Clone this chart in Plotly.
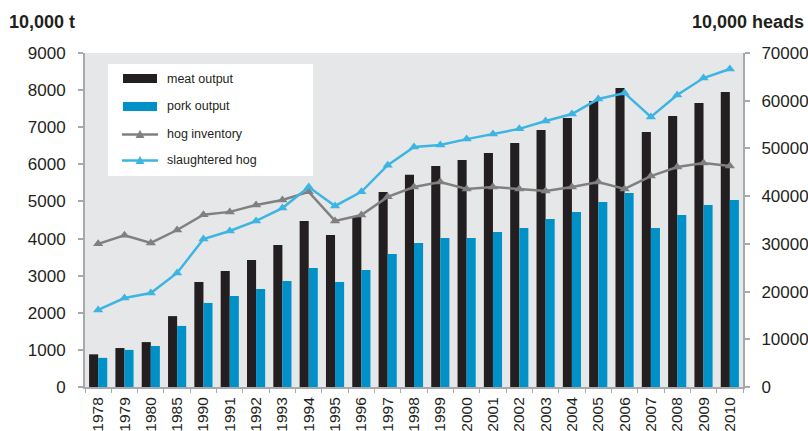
import plotly.graph_objects as go

years = ["1978", "1979", "1980", "1985", "1990", "1991", "1992", "1993", "1994", "1995",
         "1996", "1997", "1998", "1999", "2000", "2001", "2002", "2003", "2004", "2005",
         "2006", "2007", "2008", "2009", "2010"]

meat_output = [880, 1050, 1210, 1910, 2830, 3125, 3420, 3825, 4475, 4095,
               4580, 5255, 5720, 5955, 6115, 6305, 6575, 6925, 7250, 7705,
               8055, 6870, 7300, 7650, 7950]

pork_output = [785, 1000, 1105, 1645, 2265, 2455, 2640, 2855, 3205, 2830,
               3155, 3585, 3880, 4015, 4015, 4180, 4285, 4525, 4715, 4985,
               5225, 4285, 4635, 4905, 5040]

hog_inventory = [30000, 31800, 30200, 32900, 36100, 36700, 38150, 39200, 40900, 34800,
                 36050, 39850, 41900, 42950, 41500, 41900, 41500, 41100, 41900, 42950,
                 41500, 44200, 46100, 46950, 46300]

slaughtered_hog = [16150, 18650, 19700, 23900, 31000, 32700, 34800, 37500, 41900, 37950,
                   40900, 46500, 50300, 50700, 51950, 53050, 54100, 55750, 57200, 60350,
                   61600, 56600, 61200, 64750, 66650]

FONT = "Liberation Sans, Arial, sans-serif"
TXT = "#231f20"
AXIS = "#a7a9ac"

W, H = 808, 431
L, R, T, B = 85, 743, 53, 387  # plot area in page pixels


def px(x):
    return (x - L) / (R - L)


def py(y):
    return (B - y) / (B - T)


fig = go.Figure()
fig.add_trace(go.Bar(x=years, y=meat_output, name="meat output",
                     marker=dict(color="#231f20", line=dict(width=0))))
fig.add_trace(go.Bar(x=years, y=pork_output, name="pork output",
                     marker=dict(color="#0091c9", line=dict(width=0))))
fig.add_trace(go.Scatter(x=years, y=hog_inventory, name="hog inventory", yaxis="y2",
                         mode="lines+markers",
                         line=dict(color="#808080", width=2.5),
                         marker=dict(symbol="triangle-up", size=9, color="#808080")))
fig.add_trace(go.Scatter(x=years, y=slaughtered_hog, name="slaughtered hog", yaxis="y2",
                         mode="lines+markers",
                         line=dict(color="#3db5e3", width=2.5),
                         marker=dict(symbol="triangle-up", size=9, color="#3db5e3")))

shapes = []
annotations = []
# legend box
shapes.append(dict(type="rect", xref="paper", yref="paper",
                   x0=px(108), x1=px(313), y0=py(176), y1=py(64),
                   fillcolor="white", line=dict(width=0), layer="above"))
shapes.append(dict(type="rect", xref="paper", yref="paper",
                   x0=px(123), x1=px(157), y0=py(83), y1=py(74),
                   fillcolor="#231f20", line=dict(width=0), layer="above"))
shapes.append(dict(type="rect", xref="paper", yref="paper",
                   x0=px(123), x1=px(157), y0=py(111), y1=py(102),
                   fillcolor="#0091c9", line=dict(width=0), layer="above"))
for yy, col in [(134.5, "#808080"), (160.5, "#3db5e3")]:
    shapes.append(dict(type="line", xref="paper", yref="paper",
                       x0=px(122), x1=px(158), y0=py(yy), y1=py(yy),
                       line=dict(color=col, width=2.5), layer="above"))
    cx = 140
    path = "M {},{} L {},{} L {},{} Z".format(px(cx - 4.5), py(yy + 3.5), px(cx + 4.5), py(yy + 3.5),
                                              px(cx), py(yy - 4.5))
    shapes.append(dict(type="path", xref="paper", yref="paper", path=path,
                       fillcolor=col, line=dict(width=0), layer="above"))

for yy, label in [(79, "meat output"), (106, "pork output"), (134, "hog inventory"),
                  (159.5, "slaughtered hog")]:
    annotations.append(dict(text=label, xref="paper", yref="paper", x=px(165), y=py(yy),
                            xanchor="left", yanchor="middle", showarrow=False,
                            font=dict(family=FONT, size=12.5, color=TXT)))

annotations.append(dict(text="<b>10,000 t</b>", xref="paper", yref="paper", x=px(7), y=py(22),
                        xanchor="left", yanchor="middle", showarrow=False,
                        font=dict(family=FONT, size=18, color=TXT)))
annotations.append(dict(text="<b>10,000 heads</b>", xref="paper", yref="paper", x=px(806), y=py(22),
                        xanchor="right", yanchor="middle", showarrow=False,
                        font=dict(family=FONT, size=18, color=TXT)))

fig.update_layout(
    width=W, height=H,
    margin=dict(l=L, r=W - R, t=T, b=H - B, autoexpand=False),
    paper_bgcolor="white",
    plot_bgcolor="#e6e7e8",
    barmode="group", bargap=0.31, bargroupgap=0,
    showlegend=False,
    font=dict(family=FONT, color=TXT),
    shapes=shapes,
    annotations=annotations,
    xaxis=dict(type="category", range=[-0.5, len(years) - 0.5],
               showline=True, linecolor=AXIS, linewidth=2,
               ticks="outside", tickson="boundaries", ticklen=4, tickcolor=AXIS, tickwidth=1,
               tickangle=-90, tickfont=dict(family=FONT, size=15.5, color=TXT),
               ticklabelstandoff=2,
               showgrid=False, zeroline=False, fixedrange=True, automargin=False),
    yaxis=dict(range=[0, 9000], dtick=1000, tickformat="d", showline=True, linecolor=AXIS, linewidth=2,
               ticks="outside", ticklen=5, tickcolor=AXIS, tickwidth=1.5,
               tickfont=dict(family=FONT, size=17, color=TXT), ticklabelstandoff=9,
               showgrid=False, zeroline=False, automargin=False),
    yaxis2=dict(range=[0, 70000], dtick=10000, tickformat="d", overlaying="y", side="right",
                showline=True, linecolor=AXIS, linewidth=2,
                ticks="outside", ticklen=5, tickcolor=AXIS, tickwidth=1.5,
                tickfont=dict(family=FONT, size=17, color=TXT), ticklabelstandoff=8,
                showgrid=False, zeroline=False, automargin=False),
)

fig.write_html(
    "out.html",
    config={"displayModeBar": False},
    post_script="document.body.style.margin='0';document.body.style.overflow='hidden';",
)
